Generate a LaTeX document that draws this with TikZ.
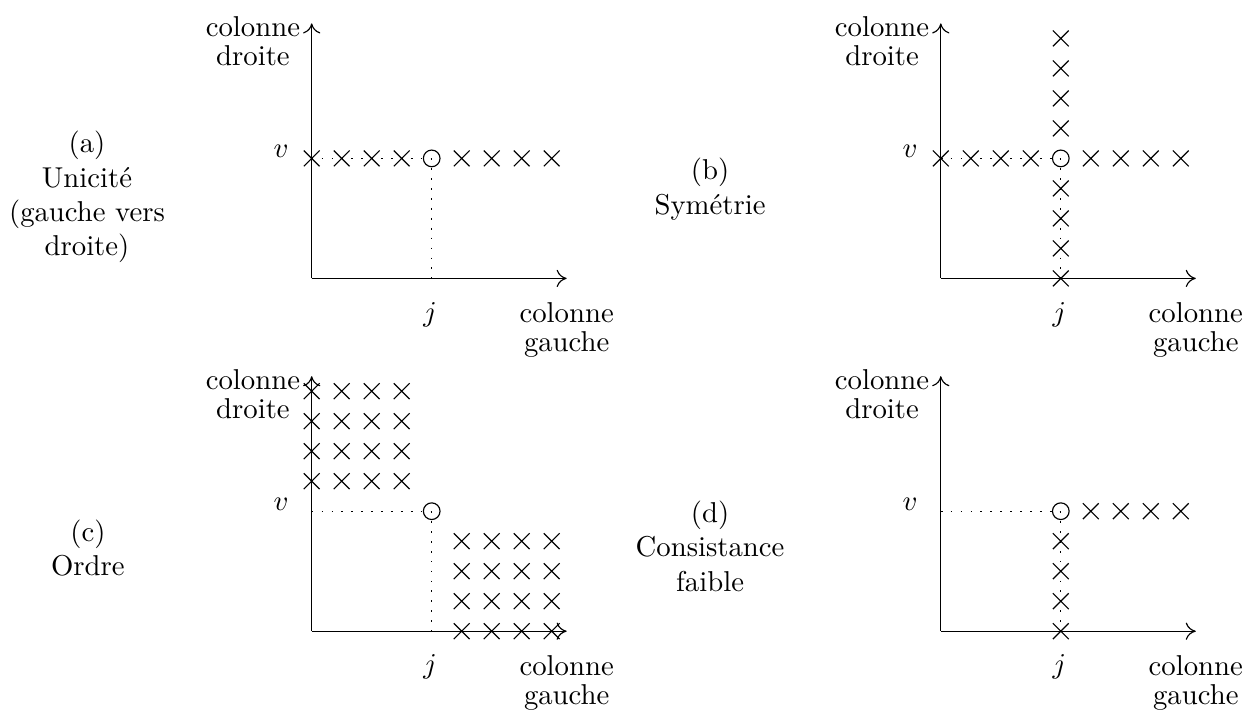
\documentclass[tikz,border=0pt]{standalone}
\usepackage{fontspec}
\usetikzlibrary{shapes.misc, arrows.meta}

\tikzset{
  axe/.style={-{To[length=3.5pt, width=6pt]}, black, thin},
  croix/.style={draw, cross out, thin, minimum size=5.1pt, inner sep=0pt},
  rond/.style={draw, circle, thin, minimum size=5.8pt, inner sep=0pt},
  pointille/.style={black, thin, dash pattern=on 0.6pt off 2.85pt},
  axelabel/.style={align=center, font=\fontsize{10}{10}\selectfont},
  titre/.style={align=center}
}

\begin{document}
\begin{tikzpicture}[x=0.367cm, y=0.367cm]

\useasboundingbox (0,0) rectangle (41.6,23.7);

%% - Draw axes, labels and the point (j,v)
%% - --------------------------------------

\foreach \p/\sx/\sy in {a/10.39/14.42, b/31.36/14.42, c/10.39/2.66, d/31.36/2.66}{
  \begin{scope}[shift={(\sx,\sy)}]
    \coordinate (o\p) at (0,0);
    \coordinate (e\p) at (8.5,0);
    \coordinate (t\p) at (0,8.5);
    \coordinate (h\p) at (0,4);
    \coordinate (b\p) at (4,0);
    \draw[axe] (o\p) -- (e\p);
    \draw[axe] (o\p) -- (t\p);
    \node[axelabel, anchor=east] (cd\p) at (-0.05,7.9) {colonne\\droite};
    \node[axelabel] (cg\p) at (8.5,-1.72) {colonne\\gauche};
    \node (v\p) at (-1.02,4.23) {$v$};
    \node (j\p) at (3.95,-1.2) {$j$};
    \node[rond] (m\p) at (4,4) {};
    \draw[pointille] (h\p) -- (m\p.center);
    \draw[pointille] (m\p.center) -- (b\p);
  \end{scope}
}

%% - Draw crosses
%% - --------------------------------------

%% - (a) Unicite
\foreach \i in {0,1,2,3,5,6,7,8}
  \node[croix] (ka\i) at ([shift={(\i,4)}]oa) {};

%% - (b) Symetrie
\foreach \i in {0,1,2,3,5,6,7,8}{
  \node[croix] (kbh\i) at ([shift={(\i,4)}]ob) {};
  \node[croix] (kbv\i) at ([shift={(4,\i)}]ob) {};
}

%% - (c) Ordre
\foreach \i in {0,1,2,3}
  \foreach \k in {5,6,7,8}{
    \node[croix] (kcl\i\k) at ([shift={(\i,\k)}]oc) {};
    \node[croix] (kcr\i\k) at ([shift={(\k,\i)}]oc) {};
  }

%% - (d) Consistance faible
\foreach \i in {0,1,2,3}{
  \node[croix] (kdh\i) at ([shift={(\i+5,4)}]od) {};
  \node[croix] (kdv\i) at ([shift={(4,\i)}]od) {};
}

%% - Draw Texts
%% - --------------------------------------

\node[titre] (legA) at (2.9,17.13) {(a)\\Unicité\\(gauche vers\\droite)};
\node[titre] (legB) at (23.67,17.4) {(b)\\Symétrie};
\node[titre] (legC) at (2.93,5.43) {(c)\\Ordre};
\node[titre] (legD) at (23.67,5.5) {(d)\\Consistance\\faible};

\end{tikzpicture}
\end{document}
